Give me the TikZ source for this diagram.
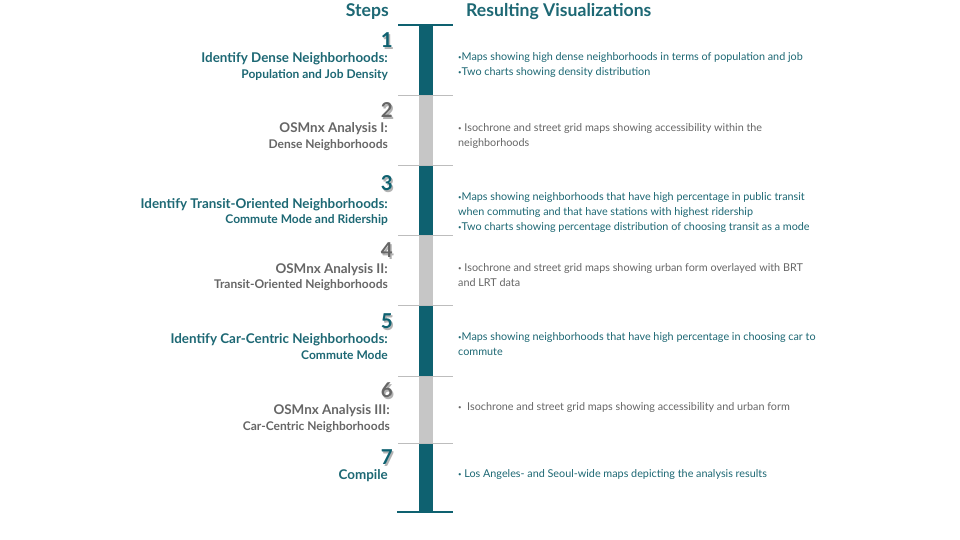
\documentclass[tikz,border=0pt]{standalone}
\usepackage{fontspec}
\setmainfont{Lato}
\definecolor{stepteal}{HTML}{0E6170}
\definecolor{textteal}{HTML}{1D6874}
\definecolor{stepgray}{HTML}{C6C6C6}
\definecolor{textgray}{HTML}{666666}
\definecolor{sepgray}{HTML}{BDBDBD}
\newcommand{\bul}{{\fontsize{6}{6}\selectfont\raisebox{0.35ex}{•}}}
\tikzset{
  header/.style={font=\bfseries\fontsize{17.6}{20}\selectfont, text=textteal, inner sep=0pt},
  ttl/.style={font=\bfseries\fontsize{13.4}{15}\selectfont, inner sep=0pt, anchor=east, yshift=-1.5pt},
  sub/.style={font=\bfseries\fontsize{12}{14}\selectfont, inner sep=0pt, anchor=east, yshift=-1.5pt},
  num/.style={font=\bfseries\fontsize{20.5}{22}\selectfont, inner sep=0pt, anchor=east},
  numshadow/.style={num, text=black!30},
  res/.style={font=\fontsize{10.8}{15}\selectfont, inner sep=0pt, anchor=north west, align=left},
  sepline/.style={draw=sepgray, line width=0.9pt},
  endline/.style={draw=stepteal, line width=1.2pt}
}
\begin{document}
\begin{tikzpicture}[x=1pt,y=-1pt]
\useasboundingbox (0,0) rectangle (960,540);
\fill[white] (0,0) rectangle (960,540);

% column headers
\node[header, anchor=east] (hsteps) at (389,12) {Steps};
\node[header, anchor=west] (hres) at (466,12) {Resulting Visualizations};

% timeline bar segments
\foreach \t/\b/\c in {25/95/stepteal, 95/165/stepgray, 165/235/stepteal,
                      235/305/stepgray, 305/376/stepteal, 376/443/stepgray,
                      443/512/stepteal}
  \fill[\c] (419,\t) rectangle (433,\b);

% separators
\coordinate (top l) at (398,25);  \coordinate (top r) at (453,25);
\coordinate (bot l) at (397,512); \coordinate (bot r) at (453,512);
\draw[endline] (top l) -- (top r);
\draw[endline] (bot l) -- (bot r);
\foreach \y [count=\k] in {95,165,235,305,376,443}{
  \coordinate (sep\k l) at (398,\y);
  \coordinate (sep\k r) at (453,\y);
  \draw[sepline] (sep\k l) -- (sep\k r);
}

% step numbers
\foreach \n/\y/\c in {1/40.5/stepteal, 2/110.5/textgray, 3/183.5/stepteal, 4/250.5/textgray,
                      5/321.5/stepteal, 6/390.5/textgray, 7/457.5/stepteal}{
  \node[numshadow] at (394.4,\y+1.2) {\n};
  \node[num, text=\c] (n\n) at (393,\y) {\n};
}

% step titles
\node[ttl, text=textteal] (s1a) at (388,57) {Identify Dense Neighborhoods:};
\node[sub, text=textteal] (s1b) at (388,74) {Population and Job Density};
\node[ttl, text=textgray] (s2a) at (388,127) {OSMnx Analysis I:};
\node[sub, text=textgray] (s2b) at (388,144) {Dense Neighborhoods};
\node[ttl, text=textteal] (s3a) at (388,203) {Identify Transit-Oriented Neighborhoods:};
\node[sub, text=textteal] (s3b) at (388,219) {Commute Mode and Ridership};
\node[ttl, text=textgray] (s4a) at (388,268) {OSMnx Analysis II:};
\node[sub, text=textgray] (s4b) at (388,284) {Transit-Oriented Neighborhoods};
\node[ttl, text=textteal] (s5a) at (388,338) {Identify Car-Centric Neighborhoods:};
\node[sub, text=textteal] (s5b) at (388,354) {Commute Mode};
\node[ttl, text=textgray] (s6a) at (390,409) {OSMnx Analysis III:};
\node[sub, text=textgray] (s6b) at (390,426) {Car-Centric Neighborhoods};
\node[ttl, text=textteal] (s7a) at (388,474) {Compile};

% resulting visualizations
\node[res, text=textteal] (r1) at (458,52)
  {\bul Maps showing high dense neighborhoods in terms of population and job\\
   \bul Two charts showing density distribution};
\node[res, text=textgray] (r2) at (458,123)
  {\bul\ Isochrone and street grid maps showing accessibility within the\\
   neighborhoods};
\node[res, text=textteal] (r3) at (458,192)
  {\bul Maps showing neighborhoods that have high percentage in public transit\\
   when commuting and that have stations with highest ridership\\
   \bul Two charts showing percentage distribution of choosing transit as a mode};
\node[res, text=textgray] (r4) at (458,263)
  {\bul\ Isochrone and street grid maps showing urban form overlayed with BRT\\
   and LRT data};
\node[res, text=textteal] (r5) at (458,332)
  {\bul Maps showing neighborhoods that have high percentage in choosing car to\\
   commute};
\node[res, text=textgray] (r6) at (458,402)
  {\bul\ \ Isochrone and street grid maps showing accessibility and urban form};
\node[res, text=textteal] (r7) at (458,469)
  {\bul\ Los Angeles- and Seoul-wide maps depicting the analysis results};
\end{tikzpicture}
\end{document}
